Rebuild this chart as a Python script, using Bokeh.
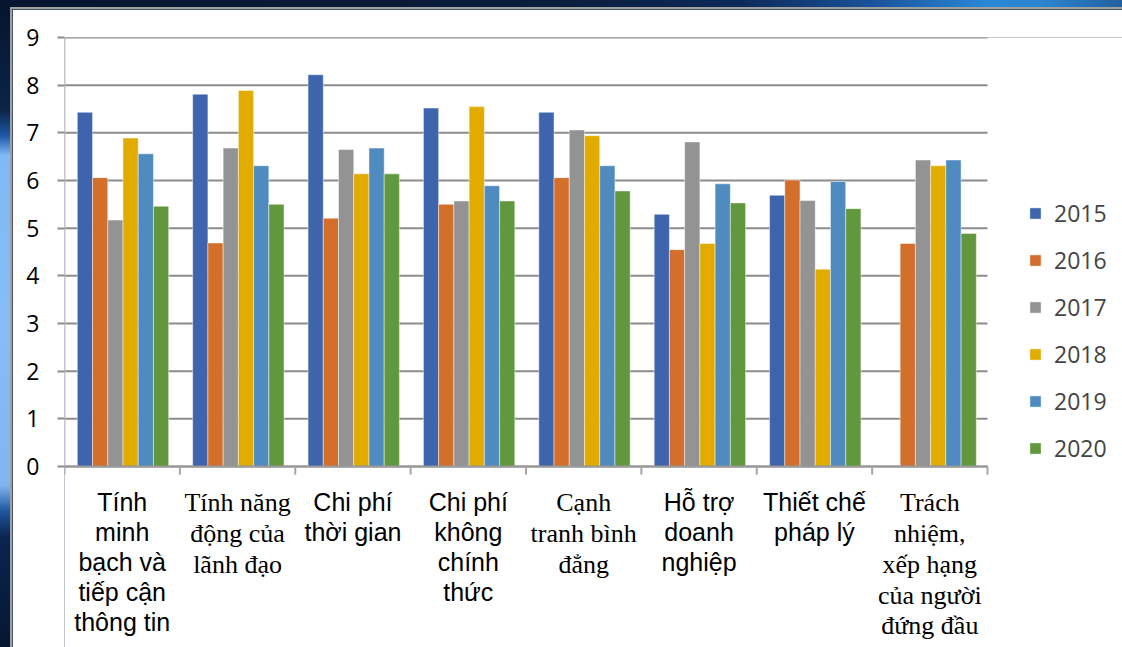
import numpy as np
from bokeh.plotting import figure
from bokeh.models import Range1d, FixedTicker, Legend, LegendItem, ColumnDataSource
from bokeh.core.properties import value
from bokeh.embed import file_html
from bokeh.resources import INLINE

categories = [
    "Tính\nminh\nbạch và\ntiếp cận\nthông tin",
    "Tính năng\nđộng của\nlãnh đạo",
    "Chi phí\nthời gian",
    "Chi phí\nkhông\nchính\nthức",
    "Cạnh\ntranh bình\nđẳng",
    "Hỗ trợ\ndoanh\nnghiệp",
    "Thiết chế\npháp lý",
    "Trách\nnhiệm,\nxếp hạng\ncủa người\nđứng đầu",
]
category_serif = [False, True, False, False, True, False, False, True]

years = ["2015", "2016", "2017", "2018", "2019", "2020"]
v2015 = [7.43, 7.81, 8.22, 7.52, 7.43, 5.29, 5.69, np.nan]
v2016 = [6.06, 4.69, 5.21, 5.50, 6.06, 4.55, 6.01, 4.68]
v2017 = [5.17, 6.68, 6.65, 5.57, 7.06, 6.81, 5.58, 6.43]
v2018 = [6.89, 7.89, 6.14, 7.55, 6.94, 4.68, 4.14, 6.31]
v2019 = [6.56, 6.31, 6.68, 5.89, 6.31, 5.93, 5.98, 6.43]
v2020 = [5.46, 5.50, 6.14, 5.57, 5.78, 5.53, 5.41, 4.89]
series = [v2015, v2016, v2017, v2018, v2019, v2020]
colors = ["#3D64AD", "#D46E2B", "#939393", "#E1AB00", "#4F8BBF", "#61983D"]
y_ticks = list(range(0, 10))

n = len(categories)
Y_MIN = -3.985   # room below the value axis for the category labels
X_MAX = 9.274    # room right of the plot area for the legend

p = figure(width=1122, height=647, output_backend="svg", toolbar_location=None,
           x_range=Range1d(0, X_MAX), y_range=Range1d(Y_MIN, 9),
           min_border_left=52, min_border_right=0, min_border_top=28, min_border_bottom=0)
p.styles = {
    "padding": "9px 0 0 12px",
    "background": (
        "linear-gradient(#a0a0a0, #a0a0a0) 10px 7px / 2px 100% no-repeat, "
        "linear-gradient(#a0a0a0, #a0a0a0) 10px 7px / 100% 2px no-repeat, "
        "linear-gradient(to right, #07152e, #0a1d3d 50%, #0c2a58 66%, #1a539c 78%, "
        "#2a88d6 88%, #2b84cf 93%, #22609f) left top / 100% 7px no-repeat, "
        "linear-gradient(to bottom, #06142c, #0b2448 17%, #1e58a5 21%, #80b9f5 24%, "
        "#86bdf7 50%, #80b6ef 75%, #1f56a0 79%, #0a2550 83%, #061630) left top / 10px 100% no-repeat, "
        "#0a1d3d"),
}
p.outline_line_color = None
p.background_fill_color = "white"
p.border_fill_color = "white"
p.xgrid.visible = False
p.ygrid.visible = False

# horizontal gridlines over the plot area only
p.segment(x0=np.zeros(len(y_ticks)), y0=y_ticks, x1=np.full(len(y_ticks), n), y1=y_ticks,
          line_color="#8C8C8C", line_width=2)

bw = 0.132
items = []
for k, (yr, vals, c) in enumerate(zip(years, series, colors)):
    xs = np.arange(n) + 0.507 + (k - 2.5) * bw
    src = ColumnDataSource(dict(x=xs, top=np.array(vals, dtype=float)))
    r = p.vbar(x="x", top="top", bottom=0, width=bw, source=src, fill_color=c,
               line_color="white", line_alpha=0.45, line_width=1)
    items.append(LegendItem(label=yr, renderers=[r]))

# value axis
p.yaxis.ticker = FixedTicker(ticks=y_ticks)
p.yaxis.minor_tick_line_color = None
p.yaxis.major_tick_in = 0
p.yaxis.major_tick_out = 7
p.yaxis.major_tick_line_color = "#8C8C8C"
p.yaxis.major_tick_line_width = 2
p.yaxis.axis_line_color = None
p.yaxis.major_label_text_font = "Open Sans"
p.yaxis.major_label_text_font_size = "23px"
p.yaxis.major_label_text_color = "black"
p.yaxis.major_label_standoff = 18
p.segment(x0=[0], y0=[0], x1=[0], y1=[max(y_ticks)], line_color="#C4C4C4", line_width=2)

# category axis (drawn in the frame, below zero)
p.xaxis.visible = False
bounds = np.arange(n + 1)
p.segment(x0=[0], y0=[0], x1=[n], y1=[0], line_color="#999999", line_width=2)
p.segment(x0=bounds, y0=np.zeros(n + 1), x1=bounds, y1=np.full(n + 1, -0.17),
          line_color="#A6A6A6", line_width=2)

centers = np.arange(n) + 0.5
sans_idx = [i for i in range(n) if not category_serif[i]]
serif_idx = [i for i in range(n) if category_serif[i]]
for idx, font, lh, fs in ((sans_idx, "Liberation Sans", 1.07, "25px"),
                          (serif_idx, "Liberation Serif", 1.06, "26px")):
    p.text(x=centers[idx], y=np.full(len(idx), -0.46), text=[categories[i] for i in idx],
           text_align="center", text_baseline="top", text_font=value(font),
           text_font_size=fs, text_line_height=lh, text_color="black")

legend = Legend(items=items, location=(964, 192), margin=0, padding=0,
                border_line_color=None, background_fill_alpha=0,
                glyph_width=14, glyph_height=14, label_height=20, spacing=15,
                label_standoff=12, label_text_font="Open Sans", label_text_font_size="23px")
p.add_layout(legend, "center")

open("out.html", "w").write(file_html(p, INLINE))
